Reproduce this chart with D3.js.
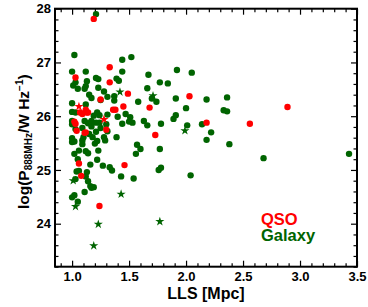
<!DOCTYPE html>
<html><head><meta charset="utf-8">
<script src="https://cdn.jsdelivr.net/npm/d3@7"></script>
<style>
html,body{margin:0;padding:0;background:#fff;}
svg{display:block;font-family:"Liberation Sans",Arial,sans-serif;}
</style></head>
<body><svg id="c" width="368" height="307"></svg>
<script>
// ---- data ----
const galLLS = [1.21,1.02,1.00,1.12,1.44,1.52,1.01,1.03,1.13,1.21,1.23,1.39,1.41,1.44,1.05,1.11,1.12,1.23,1.15,1.17,1.28,1.31,1.37,1.67,1.77,1.84,1.66,1.58,1.91,1.92,1.70,1.74,2.05,2.18,2.36,2.00,2.33,2.36,1.51,1.53,1.63,1.66,1.78,1.89,1.91,2.14,2.01,2.22,2.18,2.38,3.43,2.68,1.57,1.60,1.56,1.77,1.76,1.78,1.54,2.04,1.05,1.22,1.16,1.27,1.33,1.35,1.04,1.06,1.13,1.12,1.03,1.14,1.16,1.17,1.19,1.43,1.11,1.00,1.02,1.05,1.00,1.02,1.09,1.09,1.20,1.22,1.29,1.02,1.06,1.12,1.14,1.23,1.00,1.12,1.25,1.37,1.00,1.03,1.19,1.22,1.24,1.31,1.40,1.47,1.50,1.00,1.00,1.11,1.14,1.17,1.21,1.24,1.30,1.44,1.03,1.09,1.17,1.25,1.31,1.15,1.21,1.00,1.10,1.18,1.28,1.39];
const galLogP = [27.90,27.14,26.83,26.83,27.05,27.10,26.57,26.63,26.65,26.71,26.69,26.70,26.66,26.83,26.51,26.51,26.56,26.53,26.40,26.34,26.46,26.36,26.37,26.77,26.63,26.61,26.52,26.27,26.33,26.86,26.33,26.27,26.81,26.31,26.35,26.15,26.11,26.09,25.98,25.88,25.91,25.83,25.86,25.95,26.02,25.85,25.83,25.70,25.56,25.48,25.30,25.22,25.47,25.39,25.30,25.39,25.00,25.04,24.84,24.90,25.20,25.19,25.10,25.08,25.05,24.99,24.97,24.98,24.96,24.88,24.83,24.79,24.70,24.67,24.68,24.88,24.59,24.49,24.53,24.41,25.52,25.53,25.48,25.55,25.49,25.54,25.55,25.30,25.36,25.35,25.31,25.36,26.24,26.22,26.30,26.29,26.08,26.07,26.01,26.07,26.02,26.03,25.99,26.04,25.90,25.91,25.85,25.91,25.87,25.91,25.88,25.88,25.85,25.86,25.76,25.78,25.81,25.78,25.72,25.67,25.71,25.59,25.61,25.61,25.61,25.61];
const galStarLLS  = [1.42,1.71,1.99,1.03,1.43,1.23,1.19,1.77,1.01];
const galStarLogP = [26.45,26.38,25.73,24.32,24.55,23.99,23.59,24.04,24.80];
const qsoLLS  = [1.19,1.33,1.03,1.33,1.49,1.25,1.68,2.03,2.18,2.56,2.89,1.73,1.06,1.46,1.08,1.24,1.38,1.45,1.07,1.09,1.13,1.14,1.02,1.03,1.04,1.30,1.11,1.12,1.12,1.36];
const qsoLogP = [27.81,26.91,26.72,26.63,26.42,26.31,26.16,26.37,25.88,25.86,26.17,25.65,25.12,25.09,24.89,24.33,26.12,26.18,26.07,26.04,26.07,26.07,25.90,25.86,25.73,25.75,25.69,25.70,26.12,26.12];
const qsoStarLLS  = [1.06,1.28];
const qsoStarLogP = [26.18,25.94];
const xTicks = [1.0,1.5,2.0,2.5,3.0,3.5];
const yTicks = [24,25,26,27,28];

// ---- layout ----
const L=55,R=357,T=8.7,B=266.7;
const x = d3.scaleLinear().domain([0.85,3.5]).range([L,R]);
const y = d3.scaleLinear().domain([23.2,28]).range([B,T]);
const svg = d3.select("#c");
const RED="#ff0000", GREEN="#006400";

const xMinor = d3.range(0.9,3.5001,0.1).filter(v=>Math.abs(v*2-Math.round(v*2))>1e-6);
const yMinor = d3.range(23.2,28.0001,0.2).filter(v=>Math.abs(v-Math.round(v))>1e-6);
const MAJ=6, MIN=3.5;

function styleAxis(g){
  g.select(".domain").remove();
  g.selectAll("line").attr("stroke","#000").attr("stroke-width",1.2);
  g.selectAll("text").attr("font-size",13).attr("font-weight","bold").attr("fill","#000");
}
// bottom
svg.append("g").attr("transform",`translate(0,${B})`)
  .call(d3.axisBottom(x).tickValues(xTicks).tickSizeInner(-MAJ).tickSizeOuter(0).tickPadding(10+MAJ-6).tickFormat(d3.format(".1f")))
  .call(styleAxis).call(g=>g.selectAll("text").attr("dy","0.71em").attr("y",5));
svg.append("g").attr("transform",`translate(0,${B})`)
  .call(d3.axisBottom(x).tickValues(xMinor).tickSizeInner(-MIN).tickSizeOuter(0).tickFormat(""))
  .call(styleAxis);
// top
svg.append("g").attr("transform",`translate(0,${T})`)
  .call(d3.axisTop(x).tickValues(xTicks).tickSizeInner(-MAJ).tickSizeOuter(0).tickFormat(""))
  .call(styleAxis);
svg.append("g").attr("transform",`translate(0,${T})`)
  .call(d3.axisTop(x).tickValues(xMinor).tickSizeInner(-MIN).tickSizeOuter(0).tickFormat(""))
  .call(styleAxis);
// left
svg.append("g").attr("transform",`translate(${L},0)`)
  .call(d3.axisLeft(y).tickValues(yTicks).tickSizeInner(-MAJ).tickSizeOuter(0).tickPadding(4).tickFormat(d3.format("d")))
  .call(styleAxis);
svg.append("g").attr("transform",`translate(${L},0)`)
  .call(d3.axisLeft(y).tickValues(yMinor).tickSizeInner(-MIN).tickSizeOuter(0).tickFormat(""))
  .call(styleAxis);
// right
svg.append("g").attr("transform",`translate(${R},0)`)
  .call(d3.axisRight(y).tickValues(yTicks).tickSizeInner(-MAJ).tickSizeOuter(0).tickFormat(""))
  .call(styleAxis);
svg.append("g").attr("transform",`translate(${R},0)`)
  .call(d3.axisRight(y).tickValues(yMinor).tickSizeInner(-MIN).tickSizeOuter(0).tickFormat(""))
  .call(styleAxis);

// frame
svg.append("rect").attr("x",L).attr("y",T).attr("width",R-L).attr("height",B-T)
  .attr("fill","none").attr("stroke","#000").attr("stroke-width",2);

// points
const plot = svg.append("g");
const zip=(a,b)=>a.map((v,i)=>[v,b[i]]);
const star = d3.symbol().type(d3.symbolStar).size(26);
function circles(data,color){
  plot.append("g").selectAll("circle").data(data).join("circle")
    .attr("cx",d=>x(d[0])).attr("cy",d=>y(d[1])).attr("r",3.2).attr("fill",color);
}
function stars(data,color){
  plot.append("g").selectAll("path").data(data).join("path")
    .attr("d",star).attr("transform",d=>`translate(${x(d[0])},${y(d[1])})`).attr("fill",color);
}
circles(zip(galLLS,galLogP),GREEN);
stars(zip(galStarLLS,galStarLogP),GREEN);
circles(zip(qsoLLS,qsoLogP),RED);
stars(zip(qsoStarLLS,qsoStarLogP),RED);

// legend
svg.append("text").attr("x",261).attr("y",224.5).attr("font-size",16.5).attr("font-weight","bold").attr("fill",RED).text("QSO");
svg.append("text").attr("x",261).attr("y",241).attr("font-size",16.5).attr("font-weight","bold").attr("fill",GREEN).text("Galaxy");

// axis titles
svg.append("text").attr("x",(L+R)/2).attr("y",299).attr("text-anchor","middle")
  .attr("font-size",16).attr("font-weight","bold").text("LLS [Mpc]");
const yl = svg.append("text").attr("transform",`translate(29,${(T+B)/2+4}) rotate(-90)`)
  .attr("text-anchor","middle").attr("font-size",15.5).attr("font-weight","bold");
yl.append("tspan").text("log(P");
yl.append("tspan").attr("font-size",10).attr("dy",3).text("888MHz");
yl.append("tspan").attr("dy",-3).text("/W Hz");
yl.append("tspan").attr("font-size",10).attr("dy",-6).text("−1");
yl.append("tspan").attr("dy",6).text(")");
</script></body></html>
